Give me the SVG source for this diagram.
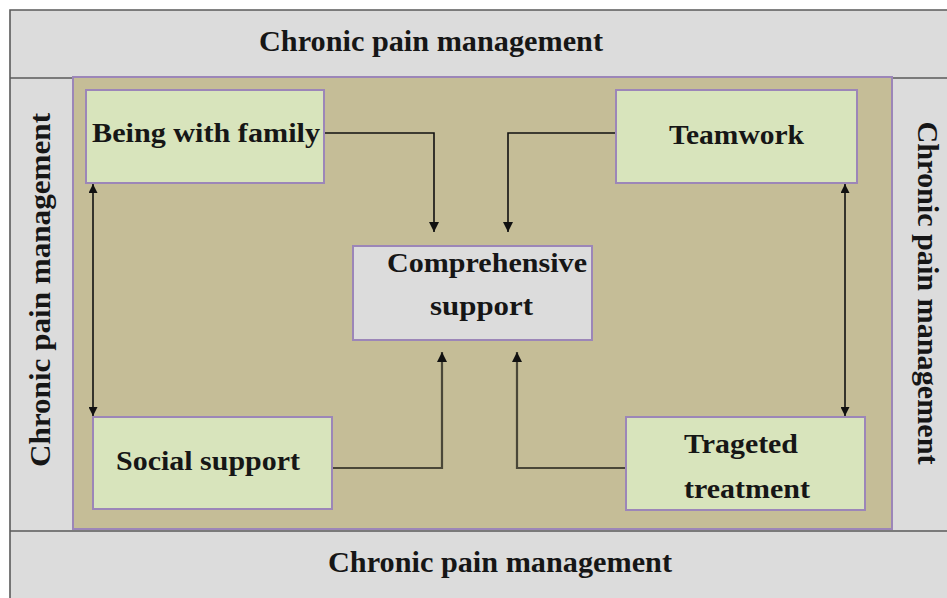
<svg xmlns="http://www.w3.org/2000/svg" width="947" height="598" viewBox="0 0 947 598">
  <style>
    .band { fill: #dcdcdc; }
    .frame { fill: none; stroke: #5a5a5a; stroke-width: 1.6; }
    .t { font-family: "Liberation Serif", "Times New Roman", serif; font-weight: bold; fill: #161616; }
    .band-t { font-size: 29px; }
    .node-t { font-size: 27px; }
    .node { fill: #d8e4bc; stroke: #9c86b8; stroke-width: 2; }
    .center { fill: #dcdcdc; stroke: #9c86b8; stroke-width: 2; }
    .conn { fill: none; stroke: #111; stroke-width: 1.6; }
    .conn2 { fill: none; stroke: #4a4738; stroke-width: 2.2; }
  </style>
  <defs>
    <marker id="ah" viewBox="0 0 10 10" refX="10" refY="5" markerWidth="9" markerHeight="9" markerUnits="userSpaceOnUse" orient="auto-start-reverse">
      <path d="M0,0 L10,5 L0,10 Z" fill="#111"/>
    </marker>
    <marker id="ah2" viewBox="0 0 10 10" refX="10" refY="5" markerWidth="10" markerHeight="10" markerUnits="userSpaceOnUse" orient="auto">
      <path d="M0,0 L10,5 L0,10 Z" fill="#111"/>
    </marker>
  </defs>

  <!-- outer bands -->
  <g id="bands">
    <rect x="10" y="10" width="937" height="588" class="band"/>
    <path d="M10,598 L10,10 L947,10" class="frame"/>
    <path d="M10,78 L947,78 M10,531 L947,531" class="frame"/>
    <text class="t band-t" x="431" y="51" text-anchor="middle" textLength="344" lengthAdjust="spacingAndGlyphs">Chronic pain management</text>
    <text class="t band-t" x="500" y="572" text-anchor="middle" textLength="344" lengthAdjust="spacingAndGlyphs">Chronic pain management</text>
    <text class="t band-t" transform="translate(50,290) rotate(-90)" x="0" y="0" text-anchor="middle" textLength="354" lengthAdjust="spacingAndGlyphs">Chronic pain management</text>
    <text class="t band-t" transform="translate(918,293) rotate(90)" x="0" y="0" text-anchor="middle" textLength="343" lengthAdjust="spacingAndGlyphs">Chronic pain management</text>
  </g>

  <!-- inner area -->
  <rect id="inner" x="73" y="77" width="819" height="452" fill="#c5bd97" stroke="#9c86b8" stroke-width="2"/>

  <!-- connectors -->
  <g id="connectors">
    <polyline class="conn" points="324,133 434,133 434,232" marker-end="url(#ah2)"/>
    <polyline class="conn" points="616,133 508,133 508,232" marker-end="url(#ah2)"/>
    <polyline class="conn2" points="332,468 442,468 442,352" marker-end="url(#ah2)"/>
    <polyline class="conn2" points="626,468 517,468 517,352" marker-end="url(#ah2)"/>
    <line class="conn" x1="93" y1="184" x2="93" y2="416" marker-start="url(#ah)" marker-end="url(#ah)"/>
    <line class="conn" x1="845" y1="184" x2="845" y2="416" marker-start="url(#ah)" marker-end="url(#ah)"/>
  </g>

  <g id="family">
    <rect class="node" x="86" y="90" width="238" height="93"/>
    <text class="t node-t" x="206" y="142" text-anchor="middle" textLength="228" lengthAdjust="spacingAndGlyphs">Being with family</text>
  </g>
  <g id="teamwork">
    <rect class="node" x="616" y="90" width="241" height="93"/>
    <text class="t node-t" x="736.5" y="144" text-anchor="middle" textLength="135" lengthAdjust="spacingAndGlyphs">Teamwork</text>
  </g>
  <g id="comprehensive">
    <rect class="center" x="353" y="246" width="239" height="94"/>
    <text class="t node-t" x="487" y="272" text-anchor="middle" textLength="200" lengthAdjust="spacingAndGlyphs">Comprehensive</text>
    <text class="t node-t" x="481.5" y="315" text-anchor="middle" textLength="103" lengthAdjust="spacingAndGlyphs">support</text>
  </g>
  <g id="social">
    <rect class="node" x="93" y="417" width="239" height="92"/>
    <text class="t node-t" x="208" y="470" text-anchor="middle" textLength="184" lengthAdjust="spacingAndGlyphs">Social support</text>
  </g>
  <g id="targeted">
    <rect class="node" x="626" y="417" width="239" height="93"/>
    <text class="t node-t" x="741" y="453" text-anchor="middle" textLength="114" lengthAdjust="spacingAndGlyphs">Trageted</text>
    <text class="t node-t" x="747" y="498" text-anchor="middle" textLength="126" lengthAdjust="spacingAndGlyphs">treatment</text>
  </g>
</svg>
